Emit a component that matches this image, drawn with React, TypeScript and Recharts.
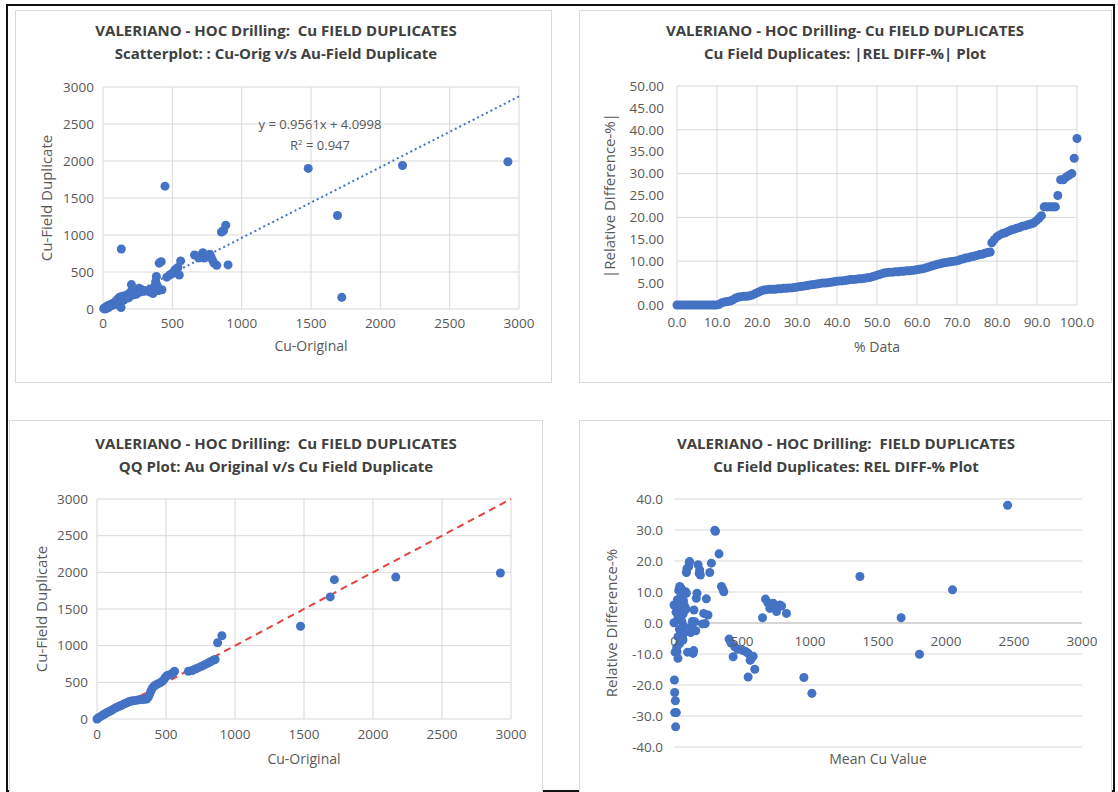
import {
  ScatterChart,
  Scatter,
  XAxis,
  YAxis,
  ZAxis,
  CartesianGrid,
  ReferenceLine,
} from "recharts";

const FONT = "'Open Sans', Arial, sans-serif";
const BLUE = "#4472C4";
const GRID = "#d9d9d9";
const INK = "#595959";

// tick labels
const cuTicks = [0, 500, 1000, 1500, 2000, 2500, 3000];
const pctTicks = [0, 10, 20, 30, 40, 50, 60, 70, 80, 90, 100];
const absDiffTicks = [0, 5, 10, 15, 20, 25, 30, 35, 40, 45, 50];
const relDiffTicks = [-40, -30, -20, -10, 0, 10, 20, 30, 40];

// trendline shown on the scatterplot
const trendSlope = 0.9561;
const trendIntercept = 4.0998;
const trendR2 = 0.947;

// Cu original vs Cu field duplicate
const scatterPairs: [number, number][] = [
  [5, 5], [10, 15], [15, 0], [20, 25], [25, 10], [30, 40], [35, 30], [40, 20], [45, 50],
  [50, 35], [55, 60], [60, 45], [65, 70], [70, 55], [80, 80], [85, 60], [90, 100], [95, 75],
  [100, 120], [105, 90], [110, 140], [115, 110], [120, 160], [125, 130], [130, 20], [132, 810],
  [135, 170], [140, 150], [150, 120], [155, 180], [160, 140], [170, 160], [180, 200], [185, 150],
  [190, 170], [200, 230], [205, 330], [210, 260], [215, 190], [220, 210], [230, 250], [240, 200],
  [250, 240], [260, 280], [270, 230], [280, 260], [300, 240], [320, 250], [340, 230], [350, 270],
  [360, 210], [370, 300], [380, 370], [385, 440], [390, 320], [395, 280], [400, 250], [405, 620],
  [420, 640], [425, 260], [447, 1660], [460, 430], [480, 460], [500, 480], [510, 500], [520, 530],
  [540, 560], [550, 460], [560, 650], [660, 730], [690, 690], [700, 720], [720, 760], [730, 690],
  [750, 720], [770, 740], [780, 700], [790, 660], [800, 620], [820, 590], [854, 1040], [870, 1060],
  [885, 1133], [902, 596], [1480, 1900], [1691, 1263], [1722, 157], [2160, 1940], [2920, 1990],
];

// sorted |relative difference| vs % of data
const absDiffSorted: [number, number][] = [
  [0, 0], [0.7, 0], [1.4, 0], [2.1, 0], [2.8, 0], [3.5, 0], [4.2, 0], [4.9, 0], [5.6, 0], [6.3, 0],
  [7, 0], [7.7, 0], [8.4, 0], [9.1, 0], [9.8, 0], [10.5, 0.1], [11.2, 0.5], [11.9, 0.7], [12.6, 0.8],
  [13.3, 0.9], [14, 1.2], [14.7, 1.6], [15.4, 1.8], [16.1, 1.9], [16.8, 2.0], [17.5, 2.0], [18.2, 2.1],
  [18.9, 2.3], [19.6, 2.6], [20.3, 2.9], [21, 3.2], [21.7, 3.4], [22.4, 3.5], [23.1, 3.6], [23.8, 3.6],
  [24.5, 3.6], [25.2, 3.7], [25.9, 3.7], [26.6, 3.8], [27.3, 3.8], [28, 3.9], [28.7, 3.9], [29.4, 4.0],
  [30.1, 4.1], [30.8, 4.2], [31.5, 4.3], [32.2, 4.4], [32.9, 4.5], [33.6, 4.6], [34.3, 4.7], [35, 4.8],
  [35.7, 4.9], [36.4, 5.0], [37.1, 5.0], [37.8, 5.1], [38.5, 5.2], [39.2, 5.3], [39.9, 5.4], [40.6, 5.5],
  [41.3, 5.5], [42, 5.6], [42.7, 5.7], [43.4, 5.8], [44.1, 5.8], [44.8, 5.9], [45.5, 6.0], [46.2, 6.0],
  [46.9, 6.1], [47.6, 6.2], [48.3, 6.3], [49, 6.5], [49.7, 6.7], [50.4, 6.9], [51.1, 7.1], [51.8, 7.3],
  [52.5, 7.4], [53.2, 7.5], [53.9, 7.5], [54.6, 7.6], [55.3, 7.6], [56, 7.7], [56.7, 7.7], [57.4, 7.8],
  [58.1, 7.8], [58.8, 7.9], [59.5, 8.0], [60.2, 8.1], [60.9, 8.2], [61.6, 8.3], [62.3, 8.5], [63, 8.7],
  [63.7, 8.9], [64.4, 9.1], [65.1, 9.3], [65.8, 9.4], [66.5, 9.6], [67.2, 9.7], [67.9, 9.8], [68.6, 9.9],
  [69.3, 10.0], [70, 10.1], [70.7, 10.3], [71.4, 10.5], [72.1, 10.7], [72.8, 10.8], [73.5, 11.0],
  [74.2, 11.1], [74.9, 11.3], [75.6, 11.5], [76.3, 11.6], [77, 11.8], [77.7, 12.0], [78.3, 12.1],
  [78.7, 14.2], [79.3, 14.9], [80, 15.6], [80.7, 16.0], [81.4, 16.3], [82.1, 16.5], [82.8, 16.8],
  [83.5, 17.1], [84.2, 17.3], [84.9, 17.5], [85.6, 17.7], [86.3, 18.0], [87, 18.1], [87.7, 18.3],
  [88.4, 18.5], [89.1, 18.7], [89.8, 19.2], [90.5, 19.8], [91.1, 20.4], [91.8, 22.4], [92.5, 22.4],
  [93.2, 22.4], [93.9, 22.4], [94.6, 22.4], [95.2, 25.0], [95.9, 28.6], [96.6, 28.6], [97.3, 29.2],
  [98, 29.6], [98.7, 30.0], [99.3, 33.5], [100, 38.0],
];

// QQ plot: sorted original vs sorted duplicate
const qqPairs: [number, number][] = [
  [0, 0], [12, 18], [25, 32], [40, 52], [55, 68], [70, 85], [85, 98], [100, 112], [115, 130],
  [130, 148], [145, 160], [160, 172], [175, 185], [190, 200], [205, 212], [220, 225], [235, 238],
  [250, 245], [265, 250], [285, 255], [305, 262], [325, 265], [345, 268], [360, 272], [372, 300],
  [382, 340], [392, 385], [402, 425], [415, 450], [430, 468], [445, 482], [462, 500], [478, 520],
  [492, 560], [505, 588], [522, 600], [540, 612], [552, 632], [562, 650], [662, 650], [690, 662],
  [712, 682], [735, 700], [758, 720], [780, 740], [802, 760], [822, 780], [842, 800], [856, 812],
  [874, 1040], [905, 1135], [1475, 1265], [1690, 1665], [1720, 1900], [2165, 1935], [2923, 1990],
];

// mean Cu vs relative difference %
const relDiffPairs: [number, number][] = [
  [2453, 38.0], [1367, 15.0], [2048, 10.7], [1670, 1.7], [1805, -10.1], [955, -17.6], [1014, -22.7],
  [300, 29.9], [305, 29.6], [331, 22.3], [275, 19.3], [263, 16.3], [349, 11.8], [366, 10.1], [358, 11.0],
  [651, 1.7], [673, 7.7], [690, 6.5], [705, 4.7], [729, 6.4], [740, 5.5], [754, 5.3], [754, 3.7],
  [778, 5.8], [791, 5.5], [827, 3.1], [715, 5.0],
  [405, -5.2], [420, -6.5], [435, -10.9], [447, -7.7], [470, -8.5], [508, -8.9], [530, -9.3],
  [545, -9.8], [570, -11.4], [582, -10.7], [594, -14.9], [545, -17.4], [560, -12.0], [140, -9.8],
  [3, -18.4], [5, -22.4], [10, -25.1], [5, -28.9], [17, -28.9], [12, -33.5],
  [0, 0.1], [0, 5.8], [8, -9.4], [15, 3.5], [17, 5.3], [20, -8.0], [22, -9.3], [25, 7.5], [29, -11.4],
  [29, -4.4], [30, 2.0], [35, 10.5], [40, -2.0], [42, 11.8], [42, -6.6], [45, 8.0], [48, 4.0],
  [50, -3.5], [52, 11.2], [55, 6.0], [58, 0.5], [60, 9.0], [62, -4.8], [66, -5.5], [68, 3.0],
  [70, 7.2], [72, -1.0], [75, 10.0], [78, 5.5], [80, -3.0], [86, 10.1], [88, 4.5], [91, 9.6],
  [91, 16.3], [95, 17.5], [100, -9.4], [108, 18.2], [112, 19.5], [115, 19.8], [123, -3.1], [130, -1.2],
  [135, 0.5], [147, 4.2], [152, 0.4], [164, 8.0], [169, 9.6], [177, 18.8], [185, 16.0], [189, 17.1],
  [194, 15.5], [209, -0.3], [218, 3.1], [238, 7.8], [250, 2.6], [230, -0.2], [160, -2.5], [145, -8.9],
];

const toPts = (pairs: [number, number][]) => pairs.map(([x, y]) => ({ x, y }));

const tickStyle = { fontSize: 13.5, fill: INK, fontFamily: FONT };
const xLabelStyle = { fontSize: 14, fill: INK, fontFamily: FONT, textAnchor: "middle" as const };
const yLabelStyle = { fontSize: 15, fill: INK, fontFamily: FONT, textAnchor: "middle" as const };
const DOT: [number, number] = [100, 100];

function Titles({ cx, top, lines }: { cx: number; top: number; lines: string[] }) {
  return (
    <div
      style={{
        position: "absolute",
        left: cx - 260,
        top,
        width: 520,
        textAlign: "center",
        fontFamily: FONT,
        fontWeight: 700,
        fontSize: 15,
        lineHeight: "23px",
        color: "#404040",
        whiteSpace: "pre",
      }}
    >
      {lines.map((l) => (
        <div key={l}>{l}</div>
      ))}
    </div>
  );
}

function Box({ left, top, width, height, children }: any) {
  return (
    <div
      style={{
        position: "absolute",
        left,
        top,
        width,
        height,
        boxSizing: "border-box",
        border: `1px solid ${GRID}`,
        background: "#fff",
      }}
    >
      {children}
    </div>
  );
}

export default function App() {
  const trendEnd = trendSlope * 3000 + trendIntercept;
  return (
    <div style={{ position: "absolute", left: 0, top: 0, width: 1118, height: 792, background: "#fff", overflow: "hidden" }}>
      {/* outer frame */}
      <div
        style={{
          position: "absolute",
          left: 6,
          top: 4,
          width: 1109,
          height: 788,
          boxSizing: "border-box",
          border: "2px solid #111",
        }}
      />

      {/* top-left: scatterplot */}
      <Box left={15} top={10} width={537} height={373}>
        <ScatterChart width={535} height={371} margin={{ top: 76, right: 32, bottom: 43, left: 27 }}>
          <CartesianGrid stroke={GRID} />
          <XAxis
            type="number"
            dataKey="x"
            domain={[0, 3000]}
            ticks={cuTicks}
            axisLine={false}
            tickLine={false}
            tickMargin={3}
            tick={tickStyle}
            height={30}
            label={{ value: "Cu-Original", position: "bottom", offset: 2, style: xLabelStyle }}
          />
          <YAxis
            type="number"
            dataKey="y"
            domain={[0, 3000]}
            ticks={cuTicks}
            axisLine={false}
            tickLine={false}
            tickMargin={3}
            tick={tickStyle}
            width={60}
            label={{ value: "Cu-Field Duplicate", angle: -90, position: "insideLeft", offset: 4, style: yLabelStyle }}
          />
          <ZAxis range={DOT} />
          <ReferenceLine
            segment={[{ x: 0, y: trendIntercept }, { x: 3000, y: trendEnd }]}
            stroke={BLUE}
            strokeWidth={2}
            strokeDasharray="2 3"
          />
          <Scatter data={toPts(scatterPairs)} fill={BLUE} isAnimationActive={false} />
        </ScatterChart>
      </Box>
      <Titles
        cx={276}
        top={19}
        lines={["VALERIANO - HOC Drilling:  Cu FIELD DUPLICATES", "Scatterplot: : Cu-Orig v/s Au-Field Duplicate"]}
      />
      <div
        style={{
          position: "absolute",
          left: 220,
          top: 116,
          width: 200,
          textAlign: "center",
          fontFamily: FONT,
          fontSize: 13,
          lineHeight: "17px",
          color: INK,
        }}
      >
        <div>{`y = ${trendSlope}x + ${trendIntercept}`}</div>
        <div>
          R<sup style={{ fontSize: 8 }}>2</sup> = {trendR2}
        </div>
      </div>

      {/* top-right: sorted |rel diff| */}
      <Box left={579} top={10} width={533} height={373}>
        <ScatterChart width={531} height={371} margin={{ top: 75, right: 34, bottom: 47, left: 21 }}>
          <CartesianGrid stroke={GRID} />
          <XAxis
            type="number"
            dataKey="x"
            domain={[0, 100]}
            ticks={pctTicks}
            tickFormatter={(v: number) => v.toFixed(1)}
            axisLine={false}
            tickLine={false}
            tickMargin={6}
            tick={tickStyle}
            height={30}
            label={{ value: "% Data", position: "bottom", offset: 7, style: xLabelStyle }}
          />
          <YAxis
            type="number"
            dataKey="y"
            domain={[0, 50]}
            ticks={absDiffTicks}
            tickFormatter={(v: number) => v.toFixed(2)}
            axisLine={false}
            tickLine={false}
            tickMargin={7}
            tick={tickStyle}
            width={76}
            label={{ value: "|Relative Difference-%|", angle: -90, position: "insideLeft", offset: 9, style: yLabelStyle }}
          />
          <ZAxis range={DOT} />
          <Scatter data={toPts(absDiffSorted)} fill={BLUE} isAnimationActive={false} />
        </ScatterChart>
      </Box>
      <Titles
        cx={845}
        top={19}
        lines={["VALERIANO - HOC Drilling- Cu FIELD DUPLICATES", "Cu Field Duplicates: |REL DIFF-%| Plot"]}
      />

      {/* bottom-left: QQ plot */}
      <Box left={9} top={420} width={534} height={380}>
        <ScatterChart width={532} height={371} margin={{ top: 78, right: 31, bottom: 43, left: 27 }}>
          <CartesianGrid stroke={GRID} />
          <XAxis
            type="number"
            dataKey="x"
            domain={[0, 3000]}
            ticks={cuTicks}
            axisLine={false}
            tickLine={false}
            tickMargin={4}
            tick={tickStyle}
            height={30}
            label={{ value: "Cu-Original", position: "bottom", offset: 5, style: xLabelStyle }}
          />
          <YAxis
            type="number"
            dataKey="y"
            domain={[0, 3000]}
            ticks={cuTicks}
            axisLine={false}
            tickLine={false}
            tickMargin={3}
            tick={tickStyle}
            width={60}
            label={{ value: "Cu-Field Duplicate", angle: -90, position: "insideLeft", offset: 5, style: yLabelStyle }}
          />
          <ZAxis range={DOT} />
          <ReferenceLine
            segment={[{ x: 0, y: 0 }, { x: 3000, y: 3000 }]}
            stroke="#e8413c"
            strokeWidth={2}
            strokeDasharray="7 5"
          />
          <Scatter data={toPts(qqPairs)} fill={BLUE} isAnimationActive={false} />
        </ScatterChart>
      </Box>
      <Titles
        cx={276}
        top={432}
        lines={["VALERIANO - HOC Drilling:  Cu FIELD DUPLICATES", "QQ Plot: Au Original v/s Cu Field Duplicate"]}
      />

      {/* bottom-right: rel diff vs mean */}
      <Box left={579} top={420} width={533} height={380}>
        <ScatterChart width={531} height={371} margin={{ top: 78, right: 29, bottom: 25, left: 27 }}>
          <CartesianGrid stroke={GRID} vertical={false} />
          <XAxis
            type="number"
            dataKey="x"
            domain={[0, 3000]}
            ticks={cuTicks}
            axisLine={false}
            tickLine={false}
            height={20}
            tick={(p: any) => (
              <text x={p.x} y={p.y} dy={-109} textAnchor="middle" fontSize={13.5} fill={INK} fontFamily={FONT}>
                {p.payload.value}
              </text>
            )}
            label={{ value: "Mean Cu Value", position: "insideTop", offset: 7, style: xLabelStyle }}
          />
          <YAxis
            type="number"
            dataKey="y"
            domain={[-40, 40]}
            ticks={relDiffTicks}
            tickFormatter={(v: number) => v.toFixed(1)}
            axisLine={false}
            tickLine={false}
            tickMargin={5}
            tick={tickStyle}
            width={67}
            label={{ value: "Relative Difference-%", angle: -90, position: "insideLeft", offset: 5, style: yLabelStyle }}
          />
          <ZAxis range={DOT} />
          <ReferenceLine y={0} stroke="#bfbfbf" />
          <Scatter data={toPts(relDiffPairs)} fill={BLUE} isAnimationActive={false} />
        </ScatterChart>
      </Box>
      <Titles
        cx={846}
        top={432}
        lines={["VALERIANO - HOC Drilling:  FIELD DUPLICATES", "Cu Field Duplicates: REL DIFF-% Plot"]}
      />
    </div>
  );
}
